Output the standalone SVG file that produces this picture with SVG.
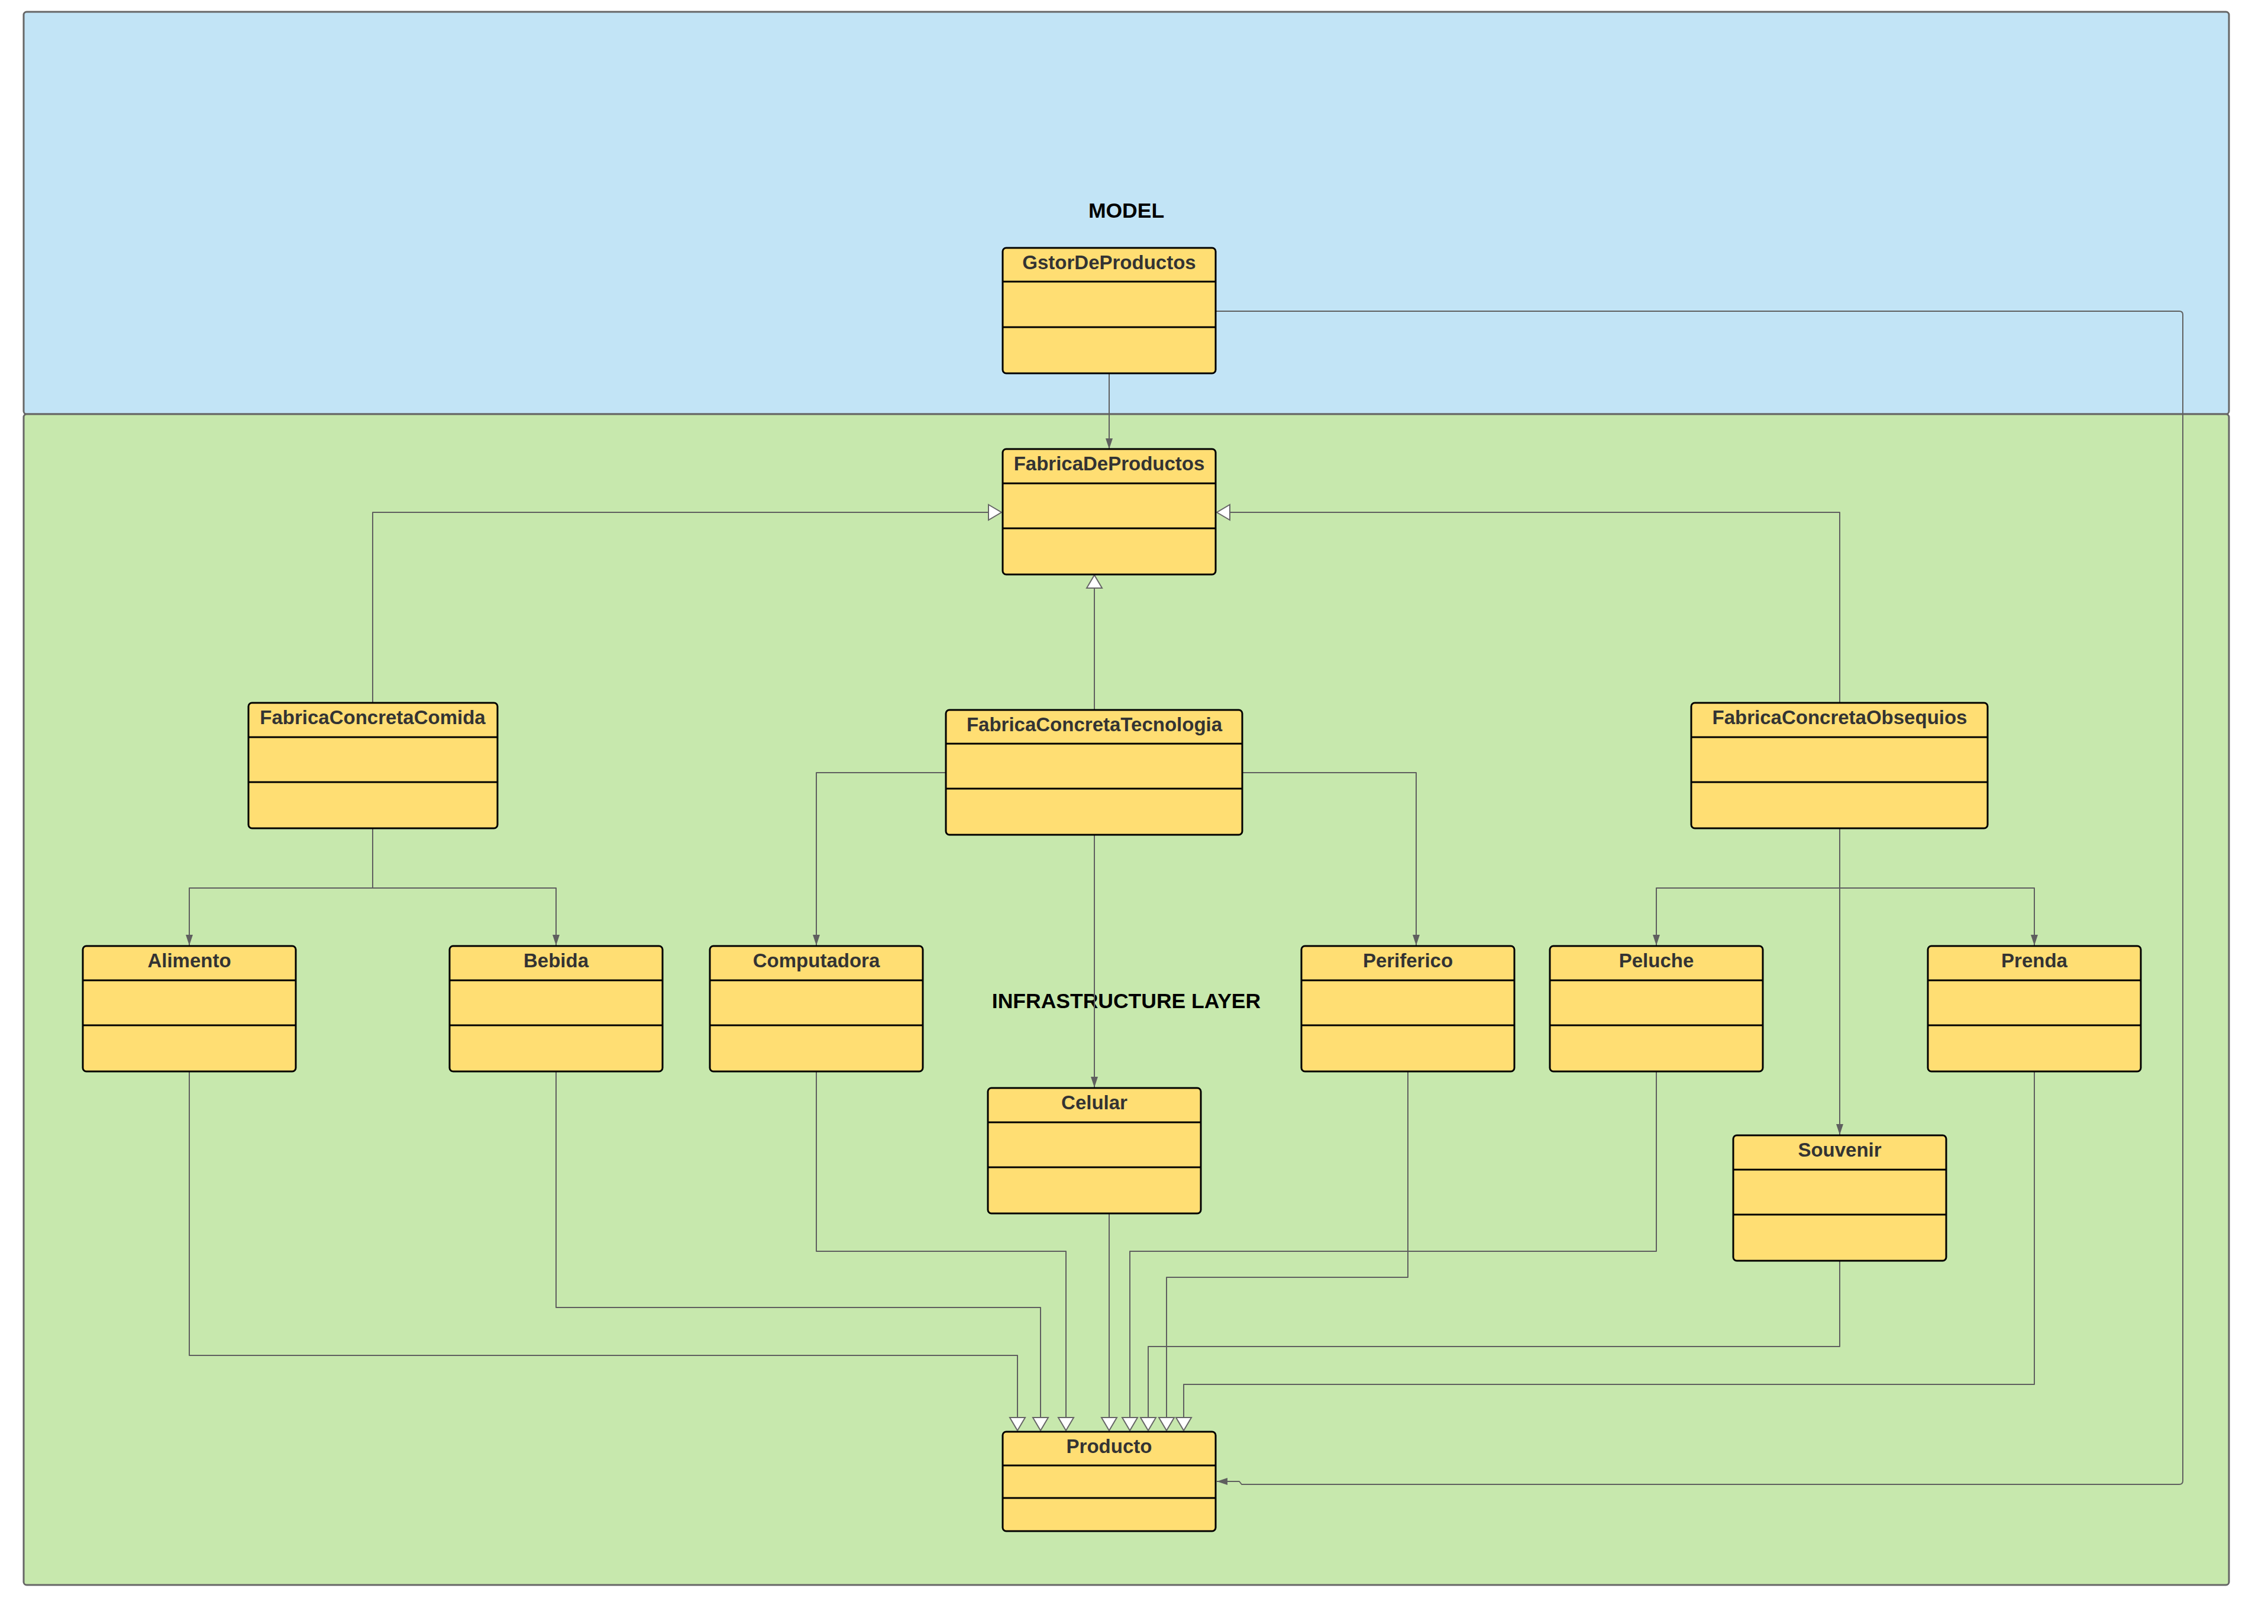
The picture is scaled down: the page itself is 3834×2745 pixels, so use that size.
<svg xmlns="http://www.w3.org/2000/svg" width="3834" height="2745" viewBox="0 0 3834 2745">
<style>
.panel{stroke:#666666;stroke-width:3}
.box{fill:#FFDE73;stroke:#000000;stroke-width:3}
.sep{stroke:#000000;stroke-width:3}
.title{font-family:"Liberation Sans",Arial,sans-serif;font-weight:bold;font-size:33px;fill:#333333;text-anchor:middle}
.layer{font-family:"Liberation Sans",Arial,sans-serif;font-weight:bold;font-size:35.5px;fill:#000000;text-anchor:middle}
.con{fill:none;stroke:#5f5f5f;stroke-width:2;stroke-linejoin:round}
.a{marker-end:url(#arr)}
.t{marker-end:url(#tri)}
</style>
<defs>
<marker id="arr" markerUnits="userSpaceOnUse" viewBox="0 0 18 12" markerWidth="18" markerHeight="12" refX="18" refY="6" orient="auto">
<path d="M0,0 L18,6 L0,12 z" fill="#5f5f5f"/>
</marker>
<marker id="tri" markerUnits="userSpaceOnUse" viewBox="-2 -2 26 30" markerWidth="26" markerHeight="30" refX="22" refY="13" orient="auto">
<path d="M0,0 L22,13 L0,26 z" fill="#ffffff" stroke="#666666" stroke-width="2"/>
</marker>
</defs>
<rect width="3834" height="2745" fill="#ffffff"/>
<g id="model-layer">
<rect class="panel" x="40" y="20" width="3728" height="680" rx="5" fill="#C2E4F6"/>
<text class="layer" x="1904" y="368">MODEL</text>
</g>
<g id="infrastructure-layer">
<rect class="panel" x="40" y="700" width="3728" height="1979" rx="5" fill="#C7E8AD"/>
<text class="layer" x="1904" y="1704">INFRASTRUCTURE LAYER</text>
</g>
<g id="connectors">
<path class="con a" d="M1875 631 V759"/>
<path class="con a" d="M2055 526 H3684 Q3690 526 3690 532 V2503 Q3690 2509 3684 2509 H2099 L2095 2504 H2057"/>
<path class="con t" d="M630 1188 V866 H1693"/>
<path class="con t" d="M3110 1188 V866 H2057"/>
<path class="con t" d="M1850 1200 V972"/>
<path class="con a" d="M630 1400 V1501 H320 V1598"/>
<path class="con a" d="M630 1501 H940 V1598"/>
<path class="con a" d="M1599 1306 H1380 V1598"/>
<path class="con a" d="M2100 1306 H2394 V1598"/>
<path class="con a" d="M1850 1411 V1838"/>
<path class="con a" d="M3110 1400 V1501 H2800 V1598"/>
<path class="con a" d="M3110 1501 H3439 V1598"/>
<path class="con a" d="M3110 1501 V1918"/>
<path class="con t" d="M320 1811 V2291 H1720 V2418"/>
<path class="con t" d="M940 1811 V2210 H1759 V2418"/>
<path class="con t" d="M1380 1811 V2115 H1802 V2418"/>
<path class="con t" d="M1875 2051 V2418"/>
<path class="con t" d="M2800 1811 V2115 H1910 V2418"/>
<path class="con t" d="M2380 1811 V2159 H1972 V2418"/>
<path class="con t" d="M3110 2131 V2276 H1941 V2418"/>
<path class="con t" d="M3439 1811 V2340 H2001 V2418"/>
</g>
<g id="GstorDeProductos">
<rect class="box" x="1695" y="419" width="360" height="212" rx="6"/>
<line class="sep" x1="1695" y1="476" x2="2055" y2="476"/>
<line class="sep" x1="1695" y1="553" x2="2055" y2="553"/>
<text class="title" x="1875" y="455">GstorDeProductos</text>
</g>
<g id="FabricaDeProductos">
<rect class="box" x="1695" y="759" width="360" height="212" rx="6"/>
<line class="sep" x1="1695" y1="817" x2="2055" y2="817"/>
<line class="sep" x1="1695" y1="893" x2="2055" y2="893"/>
<text class="title" x="1875" y="795">FabricaDeProductos</text>
</g>
<g id="FabricaConcretaComida">
<rect class="box" x="420" y="1188" width="421" height="212" rx="6"/>
<line class="sep" x1="420" y1="1246" x2="841" y2="1246"/>
<line class="sep" x1="420" y1="1322" x2="841" y2="1322"/>
<text class="title" x="630" y="1224">FabricaConcretaComida</text>
</g>
<g id="FabricaConcretaTecnologia">
<rect class="box" x="1599" y="1200" width="501" height="211" rx="6"/>
<line class="sep" x1="1599" y1="1257" x2="2100" y2="1257"/>
<line class="sep" x1="1599" y1="1333" x2="2100" y2="1333"/>
<text class="title" x="1850" y="1236">FabricaConcretaTecnologia</text>
</g>
<g id="FabricaConcretaObsequios">
<rect class="box" x="2859" y="1188" width="501" height="212" rx="6"/>
<line class="sep" x1="2859" y1="1246" x2="3360" y2="1246"/>
<line class="sep" x1="2859" y1="1322" x2="3360" y2="1322"/>
<text class="title" x="3110" y="1224">FabricaConcretaObsequios</text>
</g>
<g id="Alimento">
<rect class="box" x="140" y="1599" width="360" height="212" rx="6"/>
<line class="sep" x1="140" y1="1657" x2="500" y2="1657"/>
<line class="sep" x1="140" y1="1733" x2="500" y2="1733"/>
<text class="title" x="320" y="1635">Alimento</text>
</g>
<g id="Bebida">
<rect class="box" x="760" y="1599" width="360" height="212" rx="6"/>
<line class="sep" x1="760" y1="1657" x2="1120" y2="1657"/>
<line class="sep" x1="760" y1="1733" x2="1120" y2="1733"/>
<text class="title" x="940" y="1635">Bebida</text>
</g>
<g id="Computadora">
<rect class="box" x="1200" y="1599" width="360" height="212" rx="6"/>
<line class="sep" x1="1200" y1="1657" x2="1560" y2="1657"/>
<line class="sep" x1="1200" y1="1733" x2="1560" y2="1733"/>
<text class="title" x="1380" y="1635">Computadora</text>
</g>
<g id="Celular">
<rect class="box" x="1670" y="1839" width="360" height="212" rx="6"/>
<line class="sep" x1="1670" y1="1897" x2="2030" y2="1897"/>
<line class="sep" x1="1670" y1="1973" x2="2030" y2="1973"/>
<text class="title" x="1850" y="1875">Celular</text>
</g>
<g id="Periferico">
<rect class="box" x="2200" y="1599" width="360" height="212" rx="6"/>
<line class="sep" x1="2200" y1="1657" x2="2560" y2="1657"/>
<line class="sep" x1="2200" y1="1733" x2="2560" y2="1733"/>
<text class="title" x="2380" y="1635">Periferico</text>
</g>
<g id="Peluche">
<rect class="box" x="2620" y="1599" width="360" height="212" rx="6"/>
<line class="sep" x1="2620" y1="1657" x2="2980" y2="1657"/>
<line class="sep" x1="2620" y1="1733" x2="2980" y2="1733"/>
<text class="title" x="2800" y="1635">Peluche</text>
</g>
<g id="Prenda">
<rect class="box" x="3259" y="1599" width="360" height="212" rx="6"/>
<line class="sep" x1="3259" y1="1657" x2="3619" y2="1657"/>
<line class="sep" x1="3259" y1="1733" x2="3619" y2="1733"/>
<text class="title" x="3439" y="1635">Prenda</text>
</g>
<g id="Souvenir">
<rect class="box" x="2930" y="1919" width="360" height="212" rx="6"/>
<line class="sep" x1="2930" y1="1977" x2="3290" y2="1977"/>
<line class="sep" x1="2930" y1="2053" x2="3290" y2="2053"/>
<text class="title" x="3110" y="1955">Souvenir</text>
</g>
<g id="Producto">
<rect class="box" x="1695" y="2420" width="360" height="168" rx="6"/>
<line class="sep" x1="1695" y1="2477" x2="2055" y2="2477"/>
<line class="sep" x1="1695" y1="2532" x2="2055" y2="2532"/>
<text class="title" x="1875" y="2456">Producto</text>
</g>
</svg>
